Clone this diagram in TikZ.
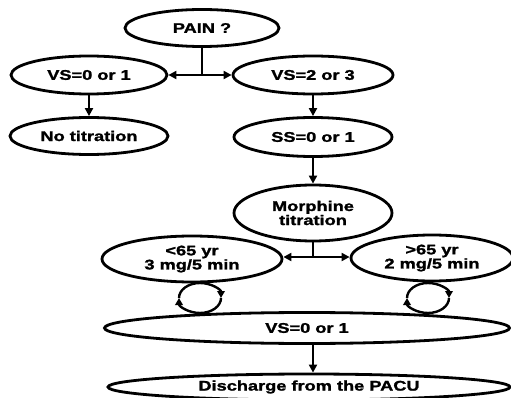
\documentclass[tikz,border=0pt]{standalone}
\usepackage{fontspec}
\setmainfont{Liberation Sans}[FakeStretch=1.3, BoldFeatures={FakeBold=1.6}]
\usetikzlibrary{shapes.geometric,arrows.meta}
\begin{document}
\begin{tikzpicture}[x=1pt,y=1pt,
  box/.style={ellipse, draw, line width=2.8pt, inner sep=0pt, align=center,
    font=\fontsize{14}{12.5}\selectfont\bfseries},
  conn/.style={line width=2.3pt},
  arr/.style={conn, -{Triangle[length=8pt,width=8pt]}},
  looparr/.style={line width=2.4pt, -{Triangle[length=7pt,width=7.5pt]}},
]
\useasboundingbox (0,0) rectangle (511,-398);

\node[box, minimum width=154pt, minimum height=37pt] (pain) at (202,-28) {PAIN ?};
\node[box, minimum width=156pt, minimum height=38pt] (vs01) at (89,-75) {VS=0 or 1};
\node[box, minimum width=160pt, minimum height=38pt] (vs23) at (313,-75) {VS=2 or 3};
\node[box, minimum width=158pt, minimum height=37pt] (notit) at (89,-136) {No titration};
\node[box, minimum width=158pt, minimum height=39pt] (ss) at (313,-137) {SS=0 or 1};
\node[box, minimum width=158pt, minimum height=56pt] (morph) at (313,-213) {Morphine\\titration};
\node[box, minimum width=180pt, minimum height=46pt] (lt) at (192,-259) {\textless65 yr\\3 mg/5 min};
\node[box, minimum width=162pt, minimum height=46pt] (gt) at (432,-258) {\textgreater65 yr\\2 mg/5 min};
\node[box, minimum width=405pt, minimum height=31pt] (vsb) at (307,-328) {VS=0 or 1};
\node[box, minimum width=402pt, minimum height=26pt] (dis) at (309,-387) {Discharge from the PACU};

% first split
\coordinate (j1) at (pain.south |- vs01.east);
\draw[conn] (pain.south) -- (j1);
\draw[arr] (j1) -- (vs01.east);
\draw[arr] (j1) -- (vs23.west);

\draw[arr] (vs01.south) -- (notit.north);
\draw[arr] (vs23.south) -- (ss.north);
\draw[arr] (ss.south) -- (morph.north);

% second split
\coordinate (j2) at (morph.south |- 0,-257);
\draw[conn] (morph.south) -- (j2);
\draw[arr] (j2) -- (j2 -| lt.east);
\draw[arr] (j2) -- (j2 -| gt.west);

% loops
\coordinate (l1) at (200,-298);
\coordinate (l2) at (428,-298);
\foreach \c in {l1,l2}{
  \draw[looparr] ([xshift=21pt]\c) arc[start angle=0, end angle=-180, x radius=21, y radius=15];
  \draw[looparr] ([xshift=-21pt]\c) arc[start angle=180, end angle=0, x radius=21, y radius=15];
}

\coordinate (b1) at (313,-343);
\draw[arr] (vsb.south -| b1) -- (dis.north -| b1);
\end{tikzpicture}
\end{document}
